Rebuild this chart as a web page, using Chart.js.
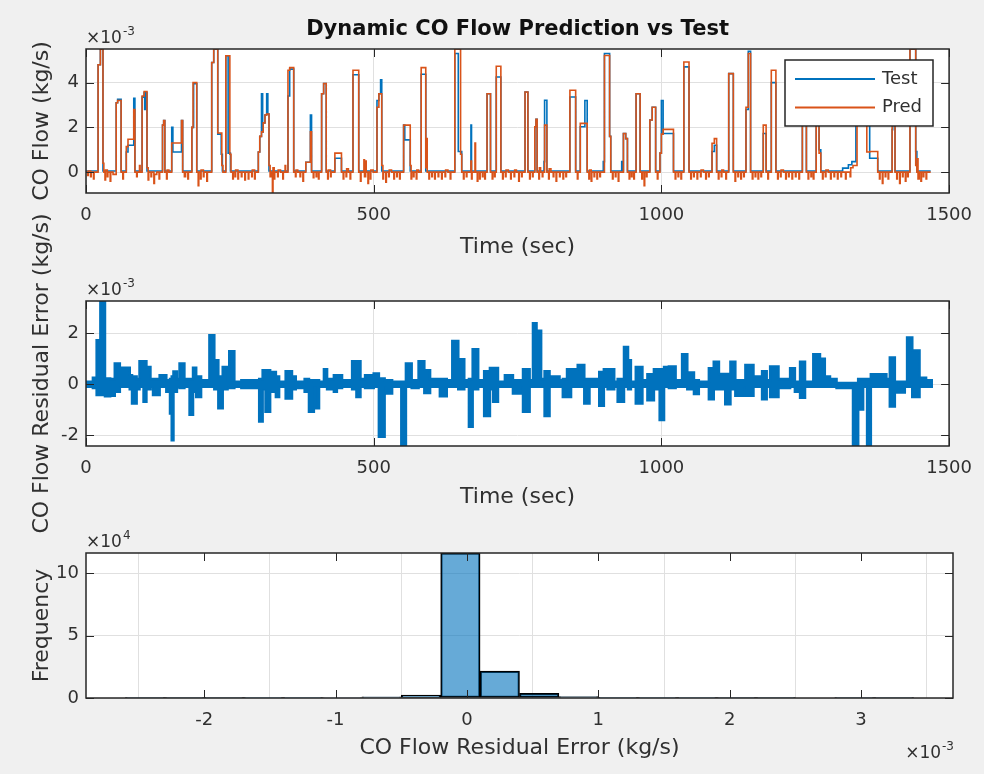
<!DOCTYPE html>
<html>
<head>
<meta charset="utf-8">
<title>Dynamic CO Flow Prediction vs Test</title>
<script src="https://cdn.jsdelivr.net/npm/chart.js@4.4.1/dist/chart.umd.min.js"></script>
<style>
  html, body { margin: 0; padding: 0; background: #f0f0f0; }
  #wrap { position: relative; width: 984px; height: 774px; }
  #wrap canvas { position: absolute; left: 0; top: 0; }
</style>
</head>
<body>
<div id="wrap">
  <canvas id="flowChart" width="984" height="774"></canvas>
  <canvas id="residChart" width="984" height="774"></canvas>
  <canvas id="histChart" width="984" height="774"></canvas>
</div>
<script>
// Test flow, step breakpoints [time (sec), CO flow x1e-3 kg/s]
const testSteps = [
  [0,0.05],
  [21,4.8],[25,5.5],[29.5,0.05],
  [52.5,3.1],[55,3.25],[61,0.05],
  [70,0.9],[73,1.2],[83,3.3],[85,0.05],
  [97.5,3.35],[101,3.55],[102,2.8],[104,3.55],[106,0.05],
  [133,2.1],[135,2.3],[137,0.05],
  [149,2.0],[151,0.9],[166,2.3],[168,0.05],
  [184,2.0],[187,3.95],[192.5,0.05],
  [218.5,4.9],[222,5.5],[229,1.7],[235,0.8],[237,0.05],
  [243,5.2],[247,0.85],[251,0.05],
  [299.5,0.9],[302,1.6],[305,3.5],[307,1.8],[308,2.2],[311,2.55],[314,3.5],[316,2.6],[318,0.05],
  [351,3.4],[354,4.6],[361,0.05],
  [382,0.44],[390,2.55],[392,0.05],
  [409.5,3.5],[413,3.96],[417.5,0.05],
  [432.5,0.62],[444,0.05],
  [464,4.35],[474,0.05],
  [505.7,3.2],[509,3.5],[512,4.13],[514,0.05],
  [552,2.1],[554,1.44],[563.5,0.05],
  [582.5,4.37],[590.5,0.05],
  [641,5.3],[647,0.92],[653,0.05],
  [669,2.1],[670,0.05],
  [697,3.5],[703,0.05],
  [713,4.25],[721,0.05],
  [763,3.58],[768,0.05],
  [780,2.03],[782,2.36],[784,0.05],
  [796,0.47],[797,3.21],[801,0.05],
  [841,3.36],[851,0.05],
  [859,2.03],[867,3.2],[871,0.05],
  [899,0.47],[901,5.3],[910,1.6],[912,0.05],
  [931,0.47],[932,0.05],
  [934,1.73],[938,1.5],[941,0.05],
  [956,3.5],[963,0.05],
  [980,2.33],[984,2.9],[990,0.05],
  [997.5,0.85],[1000,3.2],[1003,1.73],[1021,0.05],
  [1039,4.7],[1048,0.05],
  [1088,0.92],[1092,1.2],[1096,0.05],
  [1117,4.4],[1125,0.05],
  [1147,2.8],[1151,5.4],[1155,0.05],
  [1177,1.73],[1182,0.05],
  [1191,4.0],[1199,0.05],
  [1245,3.8],[1252,0.05],
  [1269,2.8],[1274,1.0],[1277,0.05],
  [1315,0.18],[1325,0.33],[1331,0.47],[1338,3.0],[1362,0.62],[1376,0.05],
  [1401,1.9],[1402,3.4],[1406,0.05],
  [1432,5.5],[1442,0.92],[1444,0.05],
  [1468,0.05]
];

// Predicted flow, step breakpoints [time (sec), CO flow x1e-3 kg/s]
const predSteps = [
  [0,0],[3,-0.15],[4,0.05],[8,-0.2],[9,0],[13,-0.3],[14,0],
  [21,4.8],[25,5.5],[29.5,0.4],[31,0],[33,-0.35],[34,0.1],[37,-0.2],[38,0],[42,-0.4],[43,0],[47,-0.1],
  [52.5,3.1],[55,3.2],[61,0],[64,-0.3],[65,0],
  [70,1.14],[73,1.47],[83,2.8],[85,0],[88,-0.2],[89,0],[93,0.3],[94,0],
  [97.5,3.4],[101,3.6],[106,0.2],[108,-0.35],[109,0],[113,-0.2],[114,0],[118,-0.5],[119,-0.1],[123,0],[127,-0.3],[128,0],
  [133,2.1],[135,2.3],[137,0],[140,-0.3],[141,0.1],[144,0],
  [149,1.3],[166,2.3],[168,0],[171,-0.2],[173,0],[177,-0.3],[178,0],
  [184,2.0],[186,4.0],[192.5,0],[195,-0.6],[196,0],[199,-0.3],[200,0.1],[204,-0.2],[205,0],[210,-0.4],[211,0],
  [218.5,4.9],[222,5.5],[229,1.75],[236,0.3],[238,0],
  [243,5.2],[250,0.8],[252,0],[255,-0.3],[256,0],[259,-0.2],[260,0.1],[264,-0.3],[265,0],[270,-0.2],[271,0],
  [276,-0.35],[277,0],[282,-0.3],[283,0],[288,-0.2],[289,0.1],[293,-0.3],[294,0],
  [299.5,0.9],[302,1.6],[305,1.8],[308,2.2],[311,2.55],[314,2.6],[318,0.3],[320,-0.2],[322,0],[324,-0.93],[325,0.2],
  [327,-0.3],[328,0],[333,-0.2],[334,0.1],[338,0],[342,-0.3],[343,0],[346,0.3],[347,0],
  [351,4.55],[354,4.67],[361,0],[364,-0.2],[365,0.1],[368,0],[372,-0.2],[373,0],[377,-0.4],[378,0],
  [382,0.44],[390,1.8],[392,0],[395,-0.25],[396,0],[400,-0.2],[401,0],[404,-0.3],[405,0],
  [409.5,3.5],[413,3.96],[417.5,0],[420,-0.3],[421,0.1],[425,-0.2],[426,0],
  [432.5,0.85],[444,0],[447,-0.3],[448,0],[452,-0.2],[453,0.15],[456,0],[459,-0.3],[460,0],
  [464,4.55],[474,0],[477,-0.4],[478,0],[483,0.55],[484,-0.2],[486,0.5],[487,0],[490,-0.5],[491,0],[494,-0.3],[495,0.1],[499,0],
  [505.7,2.9],[509,3.5],[514,0.3],[516,-0.3],[517,0],[521,-0.45],[522,0],[526,-0.2],[527,0.1],[531,0],[535,-0.3],[536,0],
  [540,-0.2],[541,0],[545,-0.3],[546,0],
  [552,2.1],[563.5,0.3],[565,-0.3],[566,0],[569,-0.2],[570,0],[574,-0.3],[575,0.1],[578,0],
  [582.5,4.67],[590.5,0.2],[592,1.5],[593,0],[596,-0.3],[597,0],[601,-0.2],[602,0],[606,-0.3],[607,0],[612,-0.2],[613,0],
  [618,-0.3],[619,0],[624,-0.2],[625,0.1],[629,0],[633,-0.3],[634,0],
  [641,5.5],[651,0.8],[653,0],[656,-0.3],[657,0],[661,-0.2],[662,0],[669,0.5],[670,-0.3],[671,0],[676,1.3],[677,0],
  [680,-0.4],[681,0],[684,-0.3],[685,0],[689,-0.2],[690,0],[693,-0.3],[694,0],
  [697,3.5],[703,0],[706,-0.3],[707,0],[710,-0.2],[711,0],
  [713,4.73],[721,0],[724,-0.3],[725,0],[729,-0.2],[730,0.1],[734,0],[738,-0.3],[739,0],[744,-0.2],[745,0.1],[748,0],
  [752,-0.4],[753,0],[757,-0.2],[758,0],
  [763,3.58],[768,0],[771,-0.3],[772,0],[776,-0.2],[777,0],
  [780,2.03],[782,2.36],[784,0],[787,-0.3],[788,0.2],[790,0],[793,-0.2],[794,0],
  [797,2.1],[801,0],[804,-0.3],[805,0.15],[808,0],[812,-0.2],[813,0],[817,-0.4],[818,0],[823,-0.2],[824,0],[829,-0.3],[830,0],
  [834,-0.2],[835,0],
  [841,3.66],[851,0],[854,-0.3],[855,0],
  [859,2.18],[871,0],[874,-0.3],[875,0.1],[878,-0.4],[879,0],[883,-0.2],[884,0],[888,-0.3],[889,0],[893,-0.2],[894,0],
  [901,5.21],[910,1.6],[912,0],[915,-0.3],[916,0],[920,-0.2],[921,0],[925,-0.4],[926,0],
  [934,1.73],[938,1.5],[941,0],[944,-0.3],[945,0],[948,-0.2],[949,0],[952,-0.3],[953,0],
  [956,3.5],[963,0],[966,-0.3],[967,0],[970,-0.6],[971,0],[974,-0.2],[975,0],
  [980,2.33],[984,2.9],[990,0],[993,-0.3],[994,0],
  [997.5,0.85],[1000,1.7],[1003,1.91],[1021,0],[1024,-0.3],[1025,0],[1029,-0.2],[1030,0],[1034,-0.3],[1035,0],
  [1039,4.92],[1048,0],[1051,-0.3],[1052,0],[1056,-0.2],[1057,0],[1062,-0.3],[1063,0],[1068,-0.2],[1069,0.1],[1073,0],
  [1077,-0.3],[1078,0],[1082,-0.2],[1083,0],
  [1088,1.29],[1092,1.5],[1096,0],[1099,-0.3],[1100,0],[1104,-0.2],[1105,0.1],[1108,0],[1112,-0.3],[1113,0],
  [1117,4.4],[1125,0],[1128,-0.4],[1129,0],[1133,-0.2],[1134,0],[1138,-0.3],[1139,0],[1143,-0.2],[1144,0],
  [1147,2.9],[1151,5.3],[1155,0],[1158,-0.3],[1159,0],[1163,-0.2],[1164,0],[1168,-0.3],[1169,0],[1173,-0.2],[1174,0],
  [1177,2.1],[1182,0],[1185,-0.3],[1186,0],
  [1191,4.55],[1199,0],[1202,-0.3],[1203,0],[1207,-0.2],[1208,0.1],[1212,0],[1216,-0.3],[1217,0],[1221,-0.2],[1222,0],
  [1227,-0.3],[1228,0],[1233,-0.2],[1234,0],[1239,-0.3],[1240,0],
  [1245,3.8],[1252,0],[1255,-0.3],[1256,0],[1260,-0.2],[1261,0],[1264,-0.3],[1265,0],
  [1269,2.8],[1274,0.85],[1277,0],[1280,-0.3],[1281,0],[1285,-0.2],[1286,0.1],[1290,0],[1294,-0.3],[1295,0],[1300,-0.2],[1301,0],
  [1306,-0.3],[1307,0],[1312,-0.2],[1313,0],[1320,-0.3],[1321,0],[1328,-0.2],[1329,0.2],[1333,0.3],
  [1340,3.0],[1357,0.9],[1362,0.92],[1376,0],[1379,-0.3],[1380,0],[1384,-0.5],[1385,0],[1389,-0.2],[1390,0],[1394,-0.3],[1395,0],
  [1401,3.4],[1406,0],[1409,-0.3],[1410,0],[1414,-0.5],[1415,0],[1419,-0.2],[1420,0],[1424,-0.4],[1425,0],[1428,-0.2],[1429,0],
  [1432,5.5],[1442,0.3],[1444,0],[1445,0.6],[1446,-0.3],[1448,0],[1451,-0.4],[1452,0],[1455,-0.2],[1456,0],[1460,-0.3],[1461,0],
  [1468,0]
];

// Residual error band [time (sec), upper x1e-3, lower x1e-3]
const residSteps = [
  [0,0.1,-0.1],[12,0.25,-0.15],[18.5,1.73,-0.43],[25,3.27,-0.43],[33,0.22,-0.47],[42,0.2,-0.45],
  [50,0.81,-0.3],[58.8,0.65,-0.1],[76,0.35,-0.2],[80,0.3,-0.76],[88,0.2,-0.2],[93,0.9,-0.1],[100,0.9,-0.69],
  [105,0.68,-0.2],[112,0.2,-0.1],[116.5,0.2,-0.43],[128,0.35,-0.1],[139.6,0.15,-0.3],[146,0.2,-1.15],
  [149,0.3,-2.2],[152,0.5,-0.3],[158,0.2,-0.1],[162.6,0.81,-0.15],[171,0.2,-0.1],[180,0.2,-1.2],
  [186,0.65,-0.3],[191.5,0.3,-0.5],[200,0.15,-0.1],[214.5,1.92,-0.1],[223,0.94,-0.2],[230,0.3,-0.95],
  [237.6,0.68,-0.2],[246,0.15,-0.1],[249,1.29,-0.15],[257.8,0.1,-0.1],[270,0.15,-0.15],[301,0.2,-1.47],
  [307,0.55,-0.2],[312,0.55,-1.08],[320,0.48,-0.3],[330,0.3,-0.5],[335.6,0.1,-0.1],[347,0.51,-0.56],
  [358,0.3,-0.2],[364.5,0.1,-0.15],[380,0.2,-0.3],[387.5,0.15,-1.08],[396,0.1,-0.1],[400,0.15,-0.95],
  [405,0.1,-0.1],[413.5,0.59,-0.1],[419,0.2,-0.2],[430.8,0.35,-0.3],[436,0.35,-0.15],[445,0.15,-0.1],
  [462.5,0.9,-0.2],[470,0.9,-0.5],[477,0.2,-0.1],[485,0.35,-0.15],[500,0.42,-0.1],
  [509,0.22,-2.07],[519,0.15,-0.1],[520,0.15,-0.37],[532,0.1,-0.1],[548,0.1,-2.43],[556,0.81,-0.1],
  [566,0.15,-0.15],[578,0.9,-0.1],[588,0.55,-0.35],[598,0.2,-0.1],[615,0.2,-0.47],[627,0.15,-0.1],
  [636.6,1.7,-0.1],[647,0.98,-0.2],[657.4,0.15,-0.1],[665.5,0.2,-1.67],[672,1.37,-0.2],[681.6,0.15,-0.1],
  [692,0.51,-1.25],[702,0.64,-0.2],[707.6,0.64,-0.69],[716,0.1,-0.1],[728,0.35,-0.1],[742,0.15,-0.37],
  [756.6,0.1,-0.1],[759.5,0.59,-1.08],[771,0.15,-0.1],[776.8,2.4,-0.1],[783,2.1,-0.1],[791,0.2,-0.1],
  [797,0.51,-1.25],[805.6,0.3,-0.1],[823,0.15,-0.1],[828.7,0.2,-0.5],[836,0.59,-0.5],[843,0.59,-0.1],
  [854.6,0.75,-0.1],[866,0.2,-0.76],[875,0.2,-0.1],[889,0.15,-0.1],[892,0.48,-0.85],[900,0.59,-0.1],
  [906.5,0.59,-0.2],[918,0.1,-0.1],[924,0.2,-0.69],[935,1.46,-0.1],[942,0.94,-0.2],[947,0.1,-0.1],
  [955.5,0.68,-0.76],[967,0.15,-0.1],[975.7,0.39,-0.63],[987,0.59,-0.2],[997,0.59,-1.41],[1004.6,0.68,-0.1],
  [1013,0.7,-0.15],[1024.7,0.15,-0.1],[1036,1.18,-0.1],[1045,0.46,-0.2],[1056.6,0.15,-0.39],[1065,0.1,-0.1],
  [1082.5,0.63,-0.59],[1091,0.88,-0.2],[1100,0.4,-0.2],[1111,0.4,-0.79],[1120,0.88,-0.2],[1128.5,0.15,-0.45],
  [1143,0.15,-0.1],[1146,0.75,-0.45],[1160,0.3,-0.1],[1175,0.51,-0.59],[1183,0.15,-0.1],[1189,0.7,-0.5],
  [1203.5,0.2,-0.15],[1223.7,0.63,-0.1],[1232,0.1,-0.3],[1241,0.88,-0.53],[1249.6,0.1,-0.1],[1264,1.18,-0.1],
  [1275.6,1.0,-0.1],[1284,0.3,-0.1],[1293,0.2,-0.1],[1304.4,0.05,-0.15],[1333,0.05,-2.43],[1342,0.2,-1.0],
  [1350.6,0.2,-0.1],[1357.5,0.2,-2.43],[1364,0.39,-0.1],[1391,0.2,-0.1],[1397,1.05,-0.88],[1405.7,0.1,-0.33],
  [1423,0.1,-0.1],[1427,1.84,-0.1],[1436,1.32,-0.5],[1448.6,0.25,-0.1],[1460,0.15,-0.1],[1472,0.15,-0.1]
];

// Histogram of residual: bin centres (x1e-3 kg/s) and counts (x1e4)
const binCenters = [-2.75,-2.45,-2.15,-1.85,-1.55,-1.25,-0.95,-0.65,-0.35,-0.05,0.25,0.55,0.85,1.15,1.45,1.75,2.05,2.35,2.65,2.95,3.25,3.55];
const binCounts  = [0,0.004,0.006,0.005,0.009,0.025,0.042,0.09,0.23,11.63,2.16,0.38,0.11,0.05,0.02,0.012,0.006,0.004,0,0.001,0.001,0];

const FONT = "'DejaVu Sans', sans-serif";
const AXIS_COLOR = "#262626";
const TEXT_COLOR = "#303030";
const GRID_COLOR = "#e0e0e0";
const TICK_LEN = 8;

// Axes frame, inward ticks and MATLAB style text
const matlabAxes = {
    id: "matlabAxes",
    beforeDraw(chart) {
        const a = chart.chartArea;
        const ctx = chart.ctx;
        ctx.save();
        ctx.fillStyle = "#ffffff";
        ctx.fillRect(a.left, a.top, a.right - a.left, a.bottom - a.top);
        ctx.restore();
    },
    afterDraw(chart, args, opts) {
        const a = chart.chartArea;
        const ctx = chart.ctx;
        const xs = chart.scales.x;
        const ys = chart.scales.y;
        ctx.save();
        ctx.strokeStyle = AXIS_COLOR;
        ctx.lineWidth = 1;
        ctx.beginPath();
        xs.ticks.forEach(t => {
            const px = Math.round(xs.getPixelForValue(t.value)) + 0.5;
            ctx.moveTo(px, a.bottom); ctx.lineTo(px, a.bottom - TICK_LEN);
            ctx.moveTo(px, a.top); ctx.lineTo(px, a.top + TICK_LEN);
        });
        ys.ticks.forEach(t => {
            const py = Math.round(ys.getPixelForValue(t.value)) + 0.5;
            ctx.moveTo(a.left, py); ctx.lineTo(a.left + TICK_LEN, py);
            ctx.moveTo(a.right, py); ctx.lineTo(a.right - TICK_LEN, py);
        });
        ctx.stroke();
        ctx.lineWidth = 1.5;
        ctx.strokeRect(a.left, a.top, a.right - a.left, a.bottom - a.top);

        ctx.fillStyle = TEXT_COLOR;
        const cx = (a.left + a.right) / 2;
        if (opts.title) {
            ctx.font = "bold 21px " + FONT;
            ctx.fillStyle = "#111111";
            ctx.textAlign = "center";
            ctx.textBaseline = "middle";
            ctx.fillText(opts.title, cx, opts.titleY);
            ctx.fillStyle = TEXT_COLOR;
        }
        ctx.font = "22px " + FONT;
        ctx.textAlign = "center";
        ctx.textBaseline = "middle";
        ctx.fillText(opts.xlabel, cx, opts.xlabelY);
        ctx.save();
        ctx.translate(opts.ylabelX, (a.top + a.bottom) / 2);
        ctx.rotate(-Math.PI / 2);
        ctx.fillText(opts.ylabel, 0, 0);
        ctx.restore();

        if (opts.yExp) drawExponent(ctx, a.left, a.top - 6, opts.yExp, "left");
        if (opts.xExp) drawExponent(ctx, a.right, opts.xExpY, opts.xExp, "right");
        ctx.restore();
    }
};

function drawExponent(ctx, x, baseY, exp, align) {
    ctx.textBaseline = "alphabetic";
    ctx.textAlign = "left";
    ctx.font = "17px " + FONT;
    const base = "\u00d710";
    const bw = ctx.measureText(base).width;
    ctx.font = "12px " + FONT;
    const ew = ctx.measureText(exp).width;
    const x0 = align === "right" ? x - bw - ew : x;
    ctx.font = "17px " + FONT;
    ctx.fillText(base, x0, baseY);
    ctx.font = "12px " + FONT;
    ctx.fillText(exp, x0 + bw + 1, baseY - 8);
}

// Legend box inside the top axes
const insideLegend = {
    id: "insideLegend",
    afterDraw(chart, args, opts) {
        const ctx = chart.ctx;
        const b = opts.box;
        ctx.save();
        ctx.fillStyle = "#ffffff";
        ctx.fillRect(b.left, b.top, b.width, b.height);
        ctx.strokeStyle = AXIS_COLOR;
        ctx.lineWidth = 1.5;
        ctx.strokeRect(b.left, b.top, b.width, b.height);
        ctx.font = "18px " + FONT;
        ctx.textBaseline = "middle";
        ctx.textAlign = "left";
        chart.data.datasets.forEach((ds, i) => {
            const y = b.top + 19 + i * 28.5;
            ctx.strokeStyle = ds.borderColor;
            ctx.lineWidth = 2;
            ctx.beginPath();
            ctx.moveTo(b.left + 10, y);
            ctx.lineTo(b.left + 90, y);
            ctx.stroke();
            ctx.fillStyle = TEXT_COLOR;
            ctx.fillText(ds.label, b.left + 97, y);
        });
        ctx.restore();
    }
};

function axisOpts(area, xTicks, yTicks) {
    return {
        x: Object.assign({
            type: "linear",
            grid: { color: GRID_COLOR, lineWidth: 1, drawTicks: false },
            border: { display: false },
            afterFit: s => { s.height = 774 - area.bottom; }
        }, xTicks),
        y: Object.assign({
            type: "linear",
            grid: { color: GRID_COLOR, lineWidth: 1, drawTicks: false },
            border: { display: false },
            afterFit: s => { s.width = area.left; }
        }, yTicks)
    };
}

function baseOptions(area, scales, frame) {
    return {
        responsive: false,
        animation: false,
        events: [],
        layout: { padding: { top: area.top, right: 984 - area.right, left: 0, bottom: 0 } },
        scales: scales,
        plugins: {
            legend: { display: false },
            tooltip: { enabled: false },
            matlabAxes: frame
        }
    };
}

function tickOpts(stepSize, padding) {
    return {
        ticks: {
            font: { family: FONT, size: 18 },
            color: TEXT_COLOR,
            maxRotation: 0,
            autoSkip: false,
            includeBounds: false,
            stepSize: stepSize,
            padding: padding,
            callback: v => String(v)
        }
    };
}

// ---- Top: flow prediction vs test
const flowArea = { left: 86, right: 953, top: 49, bottom: 193 };
const flowScales = axisOpts(flowArea,
    Object.assign({ min: 0, max: 1500 }, tickOpts(500, 12)),
    Object.assign({ min: -0.93, max: 5.5 }, tickOpts(2, 7)));
const flowOptions = baseOptions(flowArea, flowScales, {
    title: "Dynamic CO Flow Prediction vs Test", titleY: 30,
    xlabel: "Time (sec)", xlabelY: 247,
    ylabel: "CO Flow (kg/s)", ylabelX: 42,
    yExp: "-3"
});
flowOptions.plugins.insideLegend = { box: { left: 785, top: 60, width: 148, height: 66 } };

new Chart(document.getElementById("flowChart"), {
    type: "line",
    data: {
        datasets: [
            {
                label: "Test",
                data: testSteps.map(p => ({ x: p[0], y: p[1] })),
                borderColor: "#0072BD",
                borderWidth: 1.6,
                stepped: true,
                pointRadius: 0,
                fill: false,
                clip: 0,
                order: 1
            },
            {
                label: "Pred",
                data: predSteps.map(p => ({ x: p[0], y: p[1] })),
                borderColor: "#D95319",
                borderWidth: 1.6,
                stepped: true,
                pointRadius: 0,
                fill: false,
                clip: 0,
                order: 0
            }
        ]
    },
    options: flowOptions,
    plugins: [matlabAxes, insideLegend]
});

// ---- Middle: residual error
const residArea = { left: 86, right: 953, top: 301, bottom: 446 };
const residScales = axisOpts(residArea,
    Object.assign({ min: 0, max: 1500 }, tickOpts(500, 12)),
    Object.assign({ min: -2.43, max: 3.27 }, tickOpts(2, 7)));

new Chart(document.getElementById("residChart"), {
    type: "line",
    data: {
        datasets: [
            {
                label: "Residual upper",
                data: residSteps.map(r => ({ x: r[0], y: r[1] })),
                borderColor: "#0072BD",
                backgroundColor: "#0072BD",
                borderWidth: 2.5,
                stepped: true,
                pointRadius: 0,
                fill: "+1",
                clip: 0
            },
            {
                label: "Residual lower",
                data: residSteps.map(r => ({ x: r[0], y: r[2] })),
                borderColor: "#0072BD",
                borderWidth: 2.5,
                stepped: true,
                pointRadius: 0,
                fill: false,
                clip: 0
            }
        ]
    },
    options: baseOptions(residArea, residScales, {
        xlabel: "Time (sec)", xlabelY: 497,
        ylabel: "CO Flow Residual Error (kg/s)", ylabelX: 42,
        yExp: "-3"
    }),
    plugins: [matlabAxes]
});

// ---- Bottom: residual histogram
const histArea = { left: 86, right: 953, top: 553, bottom: 698 };
const histScales = axisOpts(histArea,
    Object.assign({ min: -2.9, max: 3.7, offset: false }, tickOpts(1, 12)),
    Object.assign({ min: 0, max: 11.63 }, tickOpts(5, 7)));

new Chart(document.getElementById("histChart"), {
    type: "bar",
    data: {
        datasets: [{
            label: "Frequency",
            data: binCenters.map((c, i) => ({ x: c, y: binCounts[i] })),
            backgroundColor: "rgba(0,114,189,0.6)",
            borderColor: "#000000",
            borderWidth: 1.5,
            borderSkipped: false,
            barPercentage: 1,
            categoryPercentage: 1,
            grouped: false,
            clip: 0
        }]
    },
    options: baseOptions(histArea, histScales, {
        xlabel: "CO Flow Residual Error (kg/s)", xlabelY: 748,
        ylabel: "Frequency", ylabelX: 42,
        yExp: "4",
        xExp: "-3", xExpY: 758
    }),
    plugins: [matlabAxes]
});
</script>
</body>
</html>
